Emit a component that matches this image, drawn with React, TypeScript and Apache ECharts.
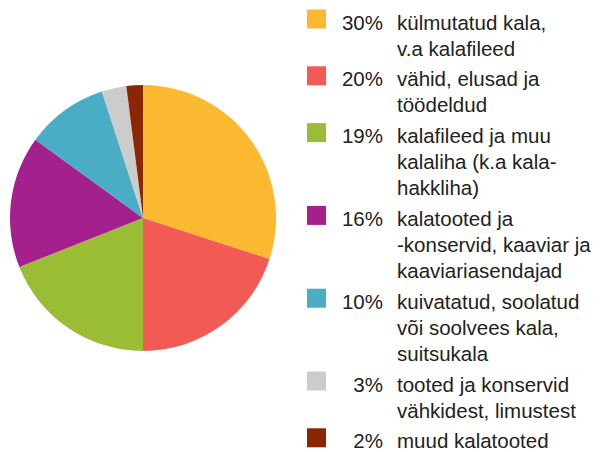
import React, { useEffect, useRef } from "react";
import * as echarts from "echarts";

const percents = [30, 20, 19, 16, 10, 3, 2];
const labels = [
  "külmutatud kala,\nv.a kalafileed",
  "vähid, elusad ja\ntöödeldud",
  "kalafileed ja muu\nkalaliha (k.a kala-\nhakkliha)",
  "kalatooted ja\n-konservid, kaaviar ja\nkaaviariasendajad",
  "kuivatatud, soolatud\nvõi soolvees kala,\nsuitsukala",
  "tooted ja konservid\nvähkidest, limustest",
  "muud kalatooted",
];
const colors = ["#FBB931", "#F15A55", "#9BBD36", "#A4208D", "#4AADC6", "#CCCCCB", "#8A2602"];

const FONT = "'Liberation Sans', Arial, sans-serif";

export default function App() {
  const ref = useRef<HTMLDivElement>(null);
  useEffect(() => {
    if (!ref.current) return;
    const chart = echarts.init(ref.current, null, { renderer: "svg" });
    const lineH = 26;
    const gap = 30.8;
    const graphics: any[] = [];
    let y = 22;
    percents.forEach((p, i) => {
      const lines = labels[i].split("\n");
      graphics.push({
        type: "rect",
        shape: { x: 307, y: y - 12.5, width: 19, height: 19 },
        style: { fill: colors[i] },
      });
      graphics.push({
        type: "text",
        x: 383,
        y,
        style: {
          text: p + "%",
          align: "right",
          verticalAlign: "middle",
          font: `20.5px ${FONT}`,
          fill: "#222",
        },
      });
      lines.forEach((ln, j) => {
        graphics.push({
          type: "text",
          x: 397,
          y: y + j * lineH,
          style: {
            text: ln,
            align: "left",
            verticalAlign: "middle",
            font: `20.5px ${FONT}`,
            fill: "#222",
          },
        });
      });
      y += (lines.length - 1) * lineH + gap;
    });

    chart.setOption({
      animation: false,
      graphic: graphics,
      series: [
        {
          type: "pie",
          center: [143, 218],
          radius: 133,
          startAngle: 90,
          clockwise: true,
          label: { show: false },
          labelLine: { show: false },
          emphasis: { disabled: true },
          itemStyle: { borderWidth: 0 },
          data: percents.map((p, i) => ({
            value: p,
            name: labels[i],
            itemStyle: { color: colors[i] },
          })),
        },
      ],
    });
    return () => chart.dispose();
  }, []);
  return <div ref={ref} style={{ width: 606, height: 452, position: "absolute", left: 0, top: 0 }} />;
}
